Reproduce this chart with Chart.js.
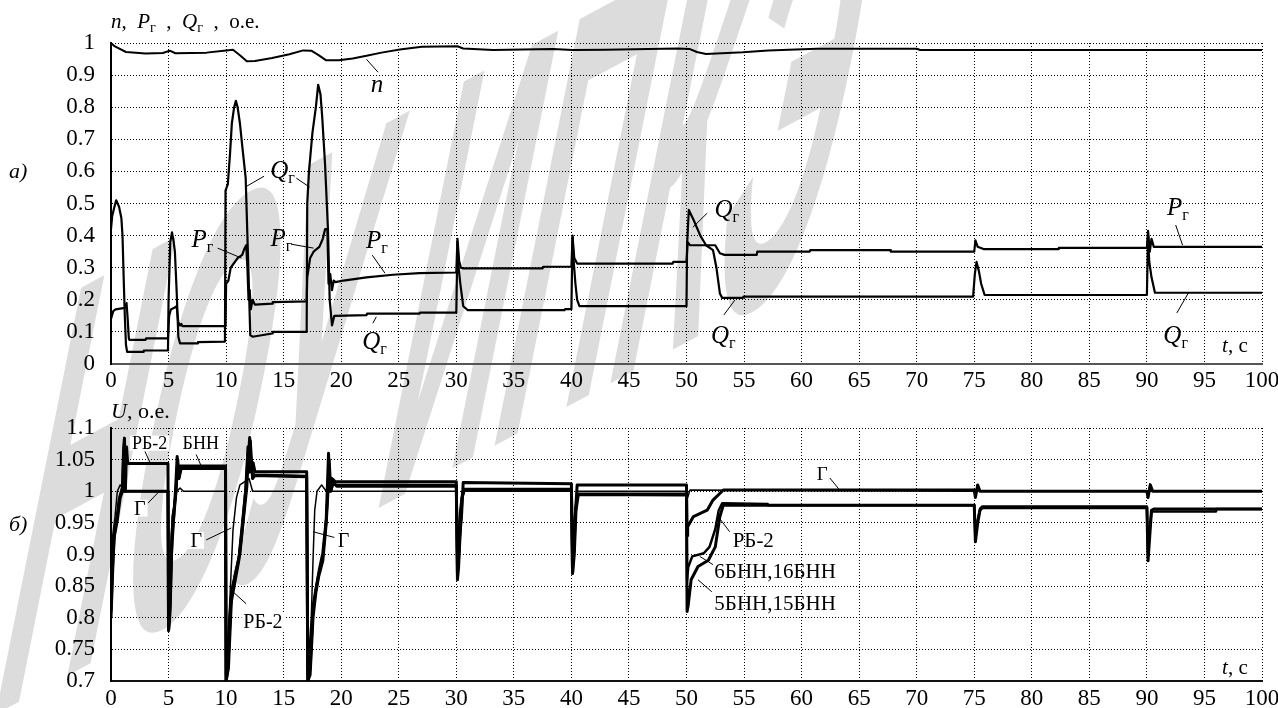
<!DOCTYPE html>
<html><head><meta charset="utf-8">
<script src="https://cdn.jsdelivr.net/npm/chart.js@4.4.0/dist/chart.umd.min.js"></script>
<style>
html,body{margin:0;padding:0;background:#fff;width:1278px;height:708px;overflow:hidden}
canvas{position:absolute;left:0}
#wm{top:0}
#c1{top:0}
#c2{top:390px}
</style></head><body>
<canvas id="wm" width="1278" height="708"></canvas>
<canvas id="c1" width="1278" height="400"></canvas>
<canvas id="c2" width="1278" height="318"></canvas>
<script>
// ---------------- DATA (t, value) ----------------
const xTicks = [0,5,10,15,20,25,30,35,40,45,50,55,60,65,70,75,80,85,90,95,100];
const topYTicks = [0,0.1,0.2,0.3,0.4,0.5,0.6,0.7,0.8,0.9,1];
const botYTicks = [0.7,0.75,0.8,0.85,0.9,0.95,1,1.05,1.1];

const nData = [[0,1.0],[0.3,0.99],[1.3,0.972],[3,0.967],[4.5,0.969],[5.1,0.976],[5.6,0.968],[8.3,0.970],[10,0.977],[10.6,0.979],[11.2,0.962],[11.8,0.943],[12.5,0.944],[14,0.953],[15.5,0.965],[16.7,0.977],[17.4,0.976],[18,0.963],[18.7,0.946],[19.8,0.946],[21,0.952],[22.2,0.960],[23.5,0.970],[25.1,0.980],[27,0.988],[30.1,0.990],[30.6,0.983],[33.2,0.978],[38.4,0.981],[40.1,0.978],[43,0.979],[49.2,0.983],[50.3,0.981],[50.9,0.972],[51.7,0.966],[54.9,0.971],[57.1,0.977],[61.3,0.982],[70,0.982],[70.3,0.978],[100,0.978]];

const qData = [[0,0.42],[0.1,0.46],[0.3,0.49],[0.45,0.51],[0.7,0.49],[0.9,0.455],[1.0,0.40],[1.1,0.27],[1.2,0.15],[1.3,0.06],[1.4,0.038],[2.8,0.038],[2.85,0.042],[4.95,0.042],[5.0,0.2],[5.15,0.38],[5.3,0.41],[5.45,0.38],[5.55,0.35],[5.7,0.23],[5.85,0.085],[6.0,0.064],[7.5,0.064],[7.55,0.068],[9.9,0.07],[9.95,0.54],[10.15,0.56],[10.35,0.66],[10.5,0.75],[10.7,0.80],[10.85,0.82],[11.0,0.80],[11.2,0.75],[11.4,0.68],[11.7,0.58],[11.85,0.40],[11.95,0.28],[12.1,0.09],[12.3,0.085],[14.0,0.095],[14.05,0.10],[17.0,0.10],[17.05,0.50],[17.2,0.60],[17.5,0.72],[17.8,0.80],[18.0,0.87],[18.2,0.84],[18.35,0.77],[18.6,0.62],[18.85,0.42],[19.0,0.20],[19.2,0.12],[19.4,0.15],[22.2,0.152],[22.25,0.157],[26.8,0.157],[26.85,0.16],[30.0,0.16],[30.1,0.38],[30.2,0.30],[30.35,0.25],[30.6,0.18],[31.0,0.168],[39.4,0.168],[39.45,0.171],[40.0,0.171],[40.1,0.40],[40.2,0.32],[40.35,0.25],[40.5,0.20],[40.7,0.18],[50.0,0.18],[50.05,0.37],[50.2,0.48],[50.6,0.45],[51.2,0.40],[51.7,0.37],[52.3,0.355],[52.6,0.30],[52.9,0.22],[53.1,0.206],[54.9,0.206],[54.95,0.21],[74.9,0.21],[75.05,0.28],[75.2,0.318],[75.4,0.29],[75.6,0.25],[75.9,0.215],[90.0,0.215],[90.1,0.40],[90.2,0.32],[90.4,0.27],[90.7,0.222],[100,0.222]];

const pData = [[0,0.14],[0.2,0.165],[0.4,0.17],[1.2,0.175],[1.35,0.19],[1.45,0.14],[1.55,0.08],[1.6,0.075],[3.0,0.075],[3.05,0.08],[4.95,0.08],[5.05,0.15],[5.2,0.17],[5.5,0.175],[5.7,0.18],[5.85,0.13],[6.0,0.12],[6.1,0.125],[6.2,0.118],[9.95,0.118],[10.0,0.25],[10.2,0.26],[10.4,0.30],[10.6,0.31],[11.0,0.33],[11.4,0.34],[11.6,0.36],[11.75,0.37],[11.85,0.30],[11.95,0.20],[12.05,0.23],[12.15,0.17],[12.3,0.20],[12.5,0.185],[14.0,0.188],[14.05,0.193],[17.0,0.195],[17.05,0.27],[17.3,0.33],[17.6,0.35],[18.1,0.365],[18.4,0.39],[18.6,0.42],[18.8,0.42],[18.9,0.25],[19.05,0.28],[19.2,0.23],[19.35,0.26],[19.5,0.255],[20.2,0.26],[22.2,0.27],[24.5,0.278],[26.8,0.283],[30.0,0.285],[30.1,0.39],[30.25,0.32],[30.4,0.30],[30.6,0.298],[37.5,0.298],[37.55,0.303],[40.0,0.303],[40.1,0.395],[40.25,0.33],[40.5,0.313],[48.8,0.313],[48.85,0.318],[50.0,0.318],[50.1,0.38],[50.3,0.37],[52.5,0.37],[52.9,0.345],[53.3,0.34],[56.1,0.34],[56.15,0.35],[60.7,0.35],[60.75,0.355],[67.7,0.355],[67.75,0.35],[75.0,0.35],[75.1,0.385],[75.3,0.365],[75.8,0.358],[82.3,0.358],[82.35,0.362],[90.0,0.362],[90.1,0.415],[90.25,0.35],[90.4,0.39],[90.6,0.365],[100,0.365]];

const uGData = [[0,0.86],[0.15,0.93],[0.35,0.96],[0.55,1.0],[0.8,1.01],[1.2,1.0],[4.95,1.0],[5.0,0.85],[5.15,0.83],[5.3,0.96],[5.5,0.98],[5.7,1.0],[6.0,1.005],[6.3,1.0],[9.9,1.0],[10.0,0.72],[10.3,0.818],[10.6,0.939],[10.9,0.99],[11.2,1.01],[11.6,1.015],[12.0,1.02],[12.3,1.0],[17.0,1.0],[17.1,0.72],[17.4,0.80],[17.55,0.89],[17.7,0.97],[17.9,1.0],[18.3,1.01],[18.7,1.0],[30.0,1.0],[30.1,0.92],[30.3,0.97],[30.5,1.0],[40.0,1.0],[40.1,0.92],[40.3,0.97],[40.5,1.0],[50.0,1.0],[50.1,0.99],[50.3,1.002],[75.0,1.0],[75.1,0.99],[75.25,1.01],[75.4,1.0],[90.0,1.0],[90.1,0.99],[90.25,1.012],[90.4,1.0],[100,1.0]];

const uRB2Data = [[0,0.80],[0.1,0.85],[0.25,0.928],[0.5,0.955],[0.7,0.986],[1.0,1.007],[1.1,1.07],[1.17,1.084],[1.25,1.0],[1.35,1.07],[1.45,1.044],[4.95,1.044],[5.0,0.78],[5.1,0.80],[5.25,0.90],[5.45,0.96],[5.6,1.0],[5.75,1.055],[5.85,1.02],[6.0,1.04],[9.95,1.04],[10.0,0.70],[10.2,0.72],[10.5,0.844],[10.9,0.876],[11.2,0.902],[11.5,0.955],[11.8,1.007],[11.95,1.06],[12.05,1.085],[12.2,1.03],[12.35,1.045],[12.5,1.031],[17.0,1.031],[17.1,0.70],[17.3,0.72],[17.55,0.818],[17.85,0.85],[18.1,0.876],[18.4,0.902],[18.7,0.955],[18.9,1.06],[19.0,1.0],[19.2,1.02],[19.5,1.015],[30.0,1.015],[30.1,0.87],[30.3,0.93],[30.45,0.96],[30.6,1.014],[40.0,1.012],[40.1,0.87],[40.3,0.95],[40.5,1.01],[50.0,1.01],[50.05,0.93],[50.1,0.944],[50.6,0.96],[51.8,0.97],[52.3,0.986],[53.2,1.002],[75.0,1.002],[75.1,0.99],[75.3,1.01],[75.5,1.0],[90.0,1.0],[90.1,0.99],[90.3,1.01],[90.5,1.0],[100,1.0]];

const uB5Data = [[0,0.81],[0.1,0.87],[0.3,0.93],[0.55,0.955],[0.8,0.99],[1.0,1.0],[1.1,1.06],[1.2,1.0],[4.95,1.0],[5.0,0.78],[5.15,0.82],[5.3,0.93],[5.5,0.97],[5.65,1.0],[5.8,1.05],[5.9,1.02],[6.1,1.036],[9.95,1.036],[10.0,0.70],[10.15,0.72],[10.4,0.82],[10.8,0.86],[11.1,0.89],[11.4,0.94],[11.7,1.0],[11.9,1.07],[12.0,1.03],[12.1,1.08],[12.3,1.02],[12.5,1.025],[17.0,1.023],[17.1,0.70],[17.3,0.71],[17.55,0.80],[17.8,0.84],[18.05,0.866],[18.4,0.89],[18.7,0.95],[18.85,1.0],[18.95,1.05],[19.1,1.0],[19.3,1.015],[19.6,1.008],[30.0,1.008],[30.1,0.86],[30.2,0.88],[30.35,0.94],[30.5,0.99],[30.7,1.003],[40.0,1.003],[40.1,0.87],[40.25,0.90],[40.4,0.97],[40.6,0.995],[50.0,0.994],[50.05,0.81],[50.15,0.82],[50.4,0.86],[51.0,0.881],[51.9,0.891],[52.5,0.912],[52.9,0.96],[53.2,0.978],[75.0,0.978],[75.1,0.92],[75.3,0.95],[75.5,0.97],[75.7,0.974],[90.0,0.974],[90.1,0.89],[90.25,0.93],[90.4,0.97],[90.6,0.972],[100,0.972]];

const uB6Data = [[0,0.83],[0.1,0.88],[0.3,0.94],[0.55,0.96],[0.8,0.995],[1.0,1.0],[4.95,1.0],[5.0,0.79],[5.15,0.84],[5.3,0.94],[5.5,0.975],[5.65,1.0],[5.8,1.04],[5.9,1.02],[6.1,1.039],[9.95,1.039],[10.0,0.71],[10.15,0.73],[10.4,0.83],[10.8,0.87],[11.1,0.895],[11.4,0.95],[11.7,1.005],[11.9,1.06],[12.0,1.04],[12.3,1.028],[12.5,1.026],[17.0,1.024],[17.1,0.71],[17.3,0.72],[17.55,0.81],[17.8,0.845],[18.05,0.87],[18.4,0.895],[18.7,0.955],[18.85,1.0],[18.95,1.04],[19.1,1.0],[19.3,1.012],[19.6,1.01],[30.0,1.01],[30.1,0.87],[30.2,0.89],[30.35,0.95],[30.5,0.99],[30.7,1.001],[40.0,1.001],[40.1,0.88],[40.25,0.91],[40.4,0.975],[40.6,0.996],[50.0,0.996],[50.05,0.86],[50.15,0.88],[50.5,0.897],[51.5,0.902],[52.0,0.912],[52.5,0.94],[52.8,0.97],[53.1,0.981],[57.0,0.98],[57.05,0.978],[75.0,0.978],[75.1,0.925],[75.3,0.955],[75.5,0.972],[75.7,0.976],[90.0,0.976],[90.1,0.90],[90.25,0.94],[90.4,0.968],[96.0,0.968],[96.05,0.972],[100,0.972]];

// ---------------- LABELS (text parts; i=italic, n=normal, s=subscript) ----------------
const topLabels = [
  {parts:[['n','i']], t:23.1, v:0.847, lead:[[23.2,0.909],[22.2,0.949]]},
  {parts:[['Q','i'],['г','s']], t:14.9, v:0.579, lead:[[13.3,0.585],[11.8,0.554]], lead2:[[16.1,0.579],[17.25,0.551]]},
  {parts:[['P','i'],['г','s']], t:7.95, v:0.364, lead:[[9.26,0.361],[11.34,0.33]]},
  {parts:[['P','i'],['г','s']], t:14.8, v:0.367, lead:[[15.7,0.373],[17.6,0.361]]},
  {parts:[['P','i'],['г','s']], t:23.1, v:0.361, lead:[[22.7,0.339],[23.8,0.283]]},
  {parts:[['Q','i'],['г','s']], t:22.9, v:0.047, lead:[[23.05,0.147],[22.75,0.127]]},
  {parts:[['Q','i'],['г','s']], t:53.5, v:0.458, lead:[[51.8,0.47],[50.55,0.426]]},
  {parts:[['Q','i'],['г','s']], t:53.2, v:0.065, lead:[[54.2,0.199],[53.25,0.153]]},
  {parts:[['P','i'],['г','s']], t:92.7, v:0.464, lead:[[92.5,0.433],[93.1,0.37]]},
  {parts:[['Q','i'],['г','s']], t:92.5, v:0.065, lead:[[92.6,0.159],[93.6,0.221]]},
  {parts:[['t','i'],[', с','n']], t:97.65, v:0.037, size:21}
];
const botLabels = [
  {parts:[['РБ-2','n']], t:3.35, v:1.067, size:18, bg:true, lead:[[2.95,1.063],[3.4,1.045]]},
  {parts:[['БНН','n']], t:7.8, v:1.067, size:18, bg:true, lead:[[7.4,1.058],[7.98,1.034]]},
  {parts:[['Г','n']], t:2.5, v:0.963, size:20, bg:true, lead:[[3.2,0.981],[4.15,0.999]]},
  {parts:[['Г','n']], t:7.4, v:0.912, size:20, bg:true, lead:[[8.27,0.923],[10.45,0.942]]},
  {parts:[['РБ-2','n']], t:13.2, v:0.784, size:20, bg:true, lead:[[11.75,0.822],[10.6,0.841]]},
  {parts:[['Г','n']], t:20.2, v:0.912, size:20, bg:true, lead:[[19.4,0.927],[17.55,0.936]]},
  {parts:[['Г','n']], t:61.8, v:1.018, size:19, lead:[[62.45,1.021],[63.3,1.002]]},
  {parts:[['РБ-2','n']], t:55.8, v:0.912, size:21, lead:[[53.75,0.936],[52.75,0.96]]},
  {parts:[['6БНН,16БНН','n']], t:57.7, v:0.863, size:21, lead:[[52.3,0.884],[51.15,0.897]]},
  {parts:[['5БНН,15БНН','n']], t:57.7, v:0.812, size:21, lead:[[52.2,0.841],[51.0,0.86]]},
  {parts:[['t','i'],[', с','n']], t:97.65, v:0.711, size:21}
];

// ---------------- RENDERING ----------------
const SERIF = '"Liberation Serif", "Times New Roman", serif';

// background watermark
(function(){
  const c = document.getElementById('wm').getContext('2d');
  c.fillStyle = '#fff'; c.fillRect(0,0,1278,708);
  c.save();
  c.setTransform(0.26, -0.14, -0.2, 1, -15, 720);
  c.fillStyle = '#dcdcdc';
  c.font = 'bold 620px "Liberation Sans"';
  c.fillText('НОУ ИПКЭ', 0, 0);
  c.restore();
})();

function drawParts(ctx, parts, cx, yb, size, bg) {
  const fonts = {i:'italic '+size+'px '+SERIF, n:size+'px '+SERIF, s:Math.round(size*0.65)+'px '+SERIF};
  let W = 0; const ws = [];
  parts.forEach(([txt,k]) => { ctx.font = fonts[k]; const w = ctx.measureText(txt).width; ws.push(w); W += w; });
  let x = cx - W/2;
  if (bg) { ctx.fillStyle = '#fff'; ctx.fillRect(x-2, yb-size*0.74, W+4, size*0.84); }
  ctx.fillStyle = '#000'; ctx.textBaseline = 'alphabetic'; ctx.textAlign = 'left';
  parts.forEach(([txt,k],i) => { ctx.font = fonts[k]; ctx.fillText(txt, x, yb + (k==='s'? size*0.2 : 0)); x += ws[i]; });
}

function labelPlugin(labels, extra) {
  return {
    id: 'labels',
    afterDraw(chart) {
      const ctx = chart.ctx, xs = chart.scales.x, ys = chart.scales.y;
      ctx.save();
      labels.forEach(L => {
        [L.lead, L.lead2].forEach(ld => {
          if (!ld) return;
          ctx.beginPath(); ctx.strokeStyle = '#000'; ctx.lineWidth = 1;
          ctx.moveTo(xs.getPixelForValue(ld[0][0]), ys.getPixelForValue(ld[0][1]));
          ctx.lineTo(xs.getPixelForValue(ld[1][0]), ys.getPixelForValue(ld[1][1]));
          ctx.stroke();
        });
        drawParts(ctx, L.parts, xs.getPixelForValue(L.t), ys.getPixelForValue(L.v), L.size || 25, L.bg);
      });
      extra(ctx);
      ctx.restore();
    }
  };
}

function leftAligned(ctx, parts, x, yb, size, bg) {
  const fonts = {i:'italic '+size+'px '+SERIF, n:size+'px '+SERIF, s:Math.round(size*0.65)+'px '+SERIF};
  let W = 0; parts.forEach(([t,k]) => { ctx.font = fonts[k]; W += ctx.measureText(t).width; });
  drawParts(ctx, parts, x + W/2, yb, size, bg);
}

const fmt = v => String(Math.round(v*1000)/1000);
const toXY = arr => arr.map(([x,y]) => ({x, y}));

function opts(o) {
  return {
    responsive:false, animation:false, devicePixelRatio:1,
    layout:{padding:{left:0, right:16, top:o.top, bottom:0}},
    plugins:{legend:{display:false}, tooltip:{enabled:false}},
    elements:{point:{radius:0, hoverRadius:0}, line:{tension:0, borderJoinStyle:'round', borderCapStyle:'butt'}},
    scales:{
      x:{type:'linear', min:0, max:100,
        afterBuildTicks: s => { s.ticks = xTicks.map(v => ({value:v})); },
        ticks:{color:'#000', font:{family:SERIF, size:23}, padding:o.xpad, maxRotation:0, autoSkip:false, callback: v => String(v)},
        grid:{color:'#000', lineWidth:1, drawTicks:false},
        border:{display:true, color:o.xb, width:2, dash:[1,2]},
        afterFit: s => { s.height = o.xh; s.paddingLeft = 0; s.paddingRight = 0; }
      },
      y:{type:'linear', min:o.ymin, max:o.ymax,
        afterBuildTicks: s => { s.ticks = o.yt.map(v => ({value:v})); },
        ticks:{color:'#000', font:{family:SERIF, size:23}, padding:16, callback: v => fmt(v)},
        grid:{color:'#000', lineWidth:1, drawTicks:false},
        border:{display:true, color:'#000', width:2, dash:[1,2]},
        afterFit: s => { s.width = 111; s.paddingTop = 0; s.paddingBottom = 0; }
      }
    }
  };
}

const line = (d, w) => ({data: toXY(d), borderColor:'#000', borderWidth:w, pointRadius:0, fill:false});

new Chart(document.getElementById('c1'), {
  type:'line',
  data:{datasets:[line(nData,2), line(pData,2.2), line(qData,2.2)]},
  options: opts({top:43, xh:36, xpad:3, xb:'#555', ymin:0, ymax:1, yt:topYTicks}),
  plugins:[labelPlugin(topLabels, ctx => {
    leftAligned(ctx, [['n','i'],[',  ','n'],['P','i'],['г','s'],['  ,  ','n'],['Q','i'],['г','s'],['  ,  о.е.','n']], 111, 28, 21);
    leftAligned(ctx, [['а)','i']], 9, 178, 22, true);
  })]
});

new Chart(document.getElementById('c2'), {
  type:'line',
  data:{datasets:[line(uGData,1.5), line(uRB2Data,3), line(uB5Data,3), line(uB6Data,2.5)]},
  options: opts({top:38, xh:27, xpad:4, xb:'#111', ymin:0.7, ymax:1.1, yt:botYTicks}),
  plugins:[labelPlugin(botLabels, ctx => {
    leftAligned(ctx, [['U','i'],[', о.е.','n']], 111, 28, 22);
    leftAligned(ctx, [['б)','i']], 9, 141, 22, true);
  })]
});
</script></body></html>
